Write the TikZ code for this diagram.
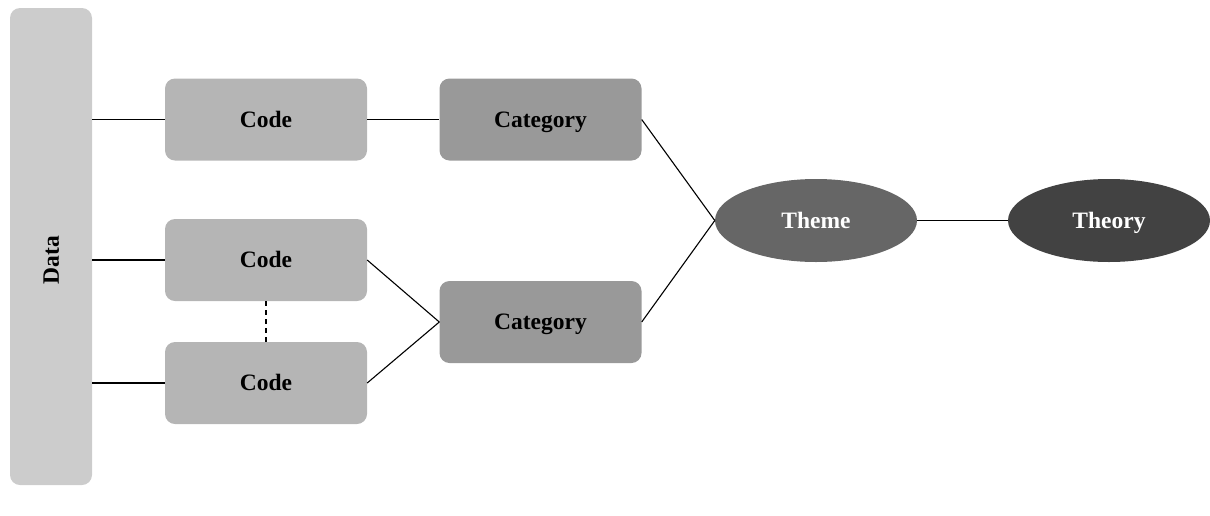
\documentclass[tikz,border=0pt]{standalone}
\usepackage{fontspec}
\setmainfont{Liberation Serif}
\usetikzlibrary{shapes.geometric}
\definecolor{datagray}{HTML}{CCCCCC}
\definecolor{codegray}{HTML}{B5B5B5}
\definecolor{catgray}{HTML}{999999}
\definecolor{themegray}{HTML}{666666}
\definecolor{theorygray}{HTML}{424242}
\begin{document}
\begin{tikzpicture}[x=1pt,y=-1pt,
  labelfont/.style={font=\fontsize{23.5}{28}\selectfont\bfseries,
    text height=15.5pt, text depth=0pt},
  box/.style={rectangle, rounded corners=10pt, minimum width=202pt, minimum height=82pt,
    inner sep=0pt, labelfont},
  codebox/.style={box, fill=codegray},
  catbox/.style={box, fill=catgray},
  oval/.style={ellipse, minimum width=202pt, minimum height=83pt, inner sep=0pt,
    text=white, labelfont},
  link/.style={line width=1.1pt, black}]
\useasboundingbox (0,0) rectangle (1210,515);
\node[rectangle, rounded corners=10pt, fill=datagray, minimum width=82pt, minimum height=477pt,
  inner sep=0pt] (data) at (51,246.5) {};
\node[rotate=90, labelfont] (datalabel) at (51,260) {Data};
\node[codebox] (code1) at (266,119.5) {Code};
\node[codebox] (code2) at (266,260) {Code};
\node[codebox] (code3) at (266,383) {Code};
\node[catbox] (cat1) at (540.5,119.5) {Category};
\node[catbox] (cat2) at (540.5,322) {Category};
\node[oval, fill=themegray] (theme) at (816,220.5) {Theme};
\node[oval, fill=theorygray] (theory) at (1109,220.5) {Theory};
\draw[link] (data.east |- code1.west) -- (code1.west);
\draw[link] (data.east |- code2.west) -- (code2.west);
\draw[link] (data.east |- code3.west) -- (code3.west);
\draw[link] (code1.east) -- (cat1.west);
\draw[link] (code2.east) -- (cat2.west);
\draw[link] (code3.east) -- (cat2.west);
\draw[link] (cat1.east) -- (theme.west);
\draw[link] (cat2.east) -- (theme.west);
\draw[link] (theme.east) -- (theory.west);
\draw[link, dash pattern=on 5pt off 4pt] (code2.south) -- (code3.north);
\end{tikzpicture}
\end{document}
